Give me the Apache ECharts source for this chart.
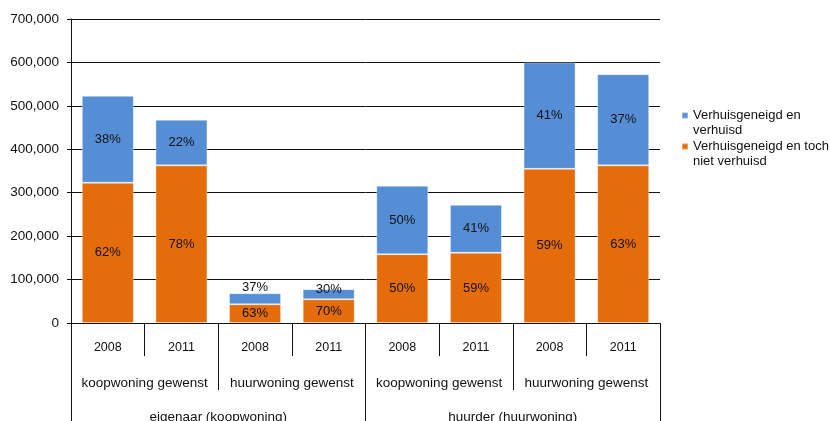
<!DOCTYPE html>
<html>
<head>
<meta charset="utf-8">
<script src="https://cdn.jsdelivr.net/npm/echarts@6/dist/echarts.min.js"></script>
<style>
  html, body { margin: 0; padding: 0; background: #fff; }
  #chart { width: 830px; height: 421px; }
</style>
</head>
<body>
<div id="chart"></div>
<script>
// Three-level category axis: year / desired dwelling / current tenure
const years = ['2008', '2011', '2008', '2011', '2008', '2011', '2008', '2011'];
const wishLabels = ['koopwoning gewenst', 'huurwoning gewenst', 'koopwoning gewenst', 'huurwoning gewenst'];
const tenureLabels = ['eigenaar (koopwoning)', 'huurder (huurwoning)'];

// Households inclined to move, split by whether they actually moved
const notMoved = [323000, 363000, 43200, 54600, 158500, 161500, 355000, 363000];
const moved    = [200000, 105000, 25300, 23400, 157500, 110500, 245000, 210000];

const seriesNames = ['Verhuisgeneigd en toch niet verhuisd', 'Verhuisgeneigd en verhuisd'];
const yTicks = [0, 100000, 200000, 300000, 400000, 500000, 600000, 700000];

// vertical lift (px) of the top-segment label on the thin stacks
const topLabelLift = [0, 0, -11, -5, 0, 0, 0, 0];

const FONT = "'Liberation Sans', Arial, sans-serif";
const BLUE = '#558ED5';
const ORANGE = '#E46C0A';
const INK = '#111';

const totals = notMoved.map((v, i) => v + moved[i]);
const pct = (v, i) => Math.round(v / totals[i] * 100) + '%';

const chart = echarts.init(document.getElementById('chart'), null, { renderer: 'canvas' });

const baseCatAxis = {
  type: 'category',
  position: 'bottom',
  gridIndex: 0,
  boundaryGap: true,
  splitLine: { show: false },
  axisLine: { show: false }
};

const legendText = {
  [seriesNames[1]]: ' \nVerhuisgeneigd en\nverhuisd',
  [seriesNames[0]]: ' \nVerhuisgeneigd en toch\nniet verhuisd'
};

chart.setOption({
  animation: false,
  backgroundColor: '#fff',
  textStyle: { fontFamily: FONT },
  grid: { left: 71, right: 170, top: 19, bottom: 98, containLabel: false, outerBoundsMode: 'none' },
  legend: {
    orient: 'vertical',
    left: 676,
    top: 88,
    data: [seriesNames[1], seriesNames[0]],
    itemWidth: 6,
    itemHeight: 6,
    itemGap: -14,
    icon: 'rect',
    formatter: name => legendText[name],
    textStyle: {
      color: INK,
      fontFamily: FONT,
      fontSize: 13,
      lineHeight: 15
    }
  },
  xAxis: [
    Object.assign({}, baseCatAxis, {
      data: years,
      axisLine: { show: true, lineStyle: { color: INK, width: 1 } },
      axisTick: { show: true, interval: 0, length: 33, lineStyle: { color: INK, width: 1 } },
      axisLabel: { interval: 0, color: INK, fontFamily: FONT, fontSize: 12.5, margin: 18 }
    }),
    Object.assign({}, baseCatAxis, {
      data: wishLabels,
      axisTick: { show: true, interval: 0, length: 67, lineStyle: { color: INK, width: 1 } },
      axisLabel: { interval: 0, color: INK, fontFamily: FONT, fontSize: 13.5, margin: 53 }
    }),
    Object.assign({}, baseCatAxis, {
      data: tenureLabels,
      axisTick: { show: true, interval: 0, length: 110, lineStyle: { color: INK, width: 1 } },
      axisLabel: { interval: 0, color: INK, fontFamily: FONT, fontSize: 13.5, margin: 87 }
    })
  ],
  yAxis: {
    type: 'value',
    min: yTicks[0],
    max: yTicks[yTicks.length - 1],
    interval: yTicks[1] - yTicks[0],
    axisLine: { show: true, lineStyle: { color: INK, width: 1 } },
    axisTick: { show: true, length: 4, lineStyle: { color: INK, width: 1 } },
    splitLine: { show: true, lineStyle: { color: INK, width: 1 } },
    axisLabel: {
      color: INK,
      fontFamily: FONT,
      fontSize: 13.5,
      margin: 12,
      formatter: v => v.toLocaleString('en-US')
    }
  },
  series: [
    {
      name: seriesNames[0],
      type: 'bar',
      stack: 'total',
      xAxisIndex: 0,
      barWidth: 52,
      itemStyle: { color: ORANGE, borderColor: 'rgba(255,255,255,0.35)', borderWidth: 1 },
      label: {
        show: true,
        position: 'inside',
        color: INK,
        fontFamily: FONT,
        fontSize: 13,
        formatter: p => pct(p.value, p.dataIndex)
      },
      data: notMoved
    },
    {
      name: seriesNames[1],
      type: 'bar',
      stack: 'total',
      xAxisIndex: 0,
      barWidth: 52,
      itemStyle: { color: BLUE, borderColor: 'rgba(255,255,255,0.35)', borderWidth: 1 },
      label: {
        show: true,
        position: 'inside',
        color: INK,
        fontFamily: FONT,
        fontSize: 13,
        formatter: p => pct(p.value, p.dataIndex)
      },
      data: moved.map((v, i) => ({ value: v, label: { offset: [0, topLabelLift[i]] } }))
    }
  ]
});
</script>
</body>
</html>
